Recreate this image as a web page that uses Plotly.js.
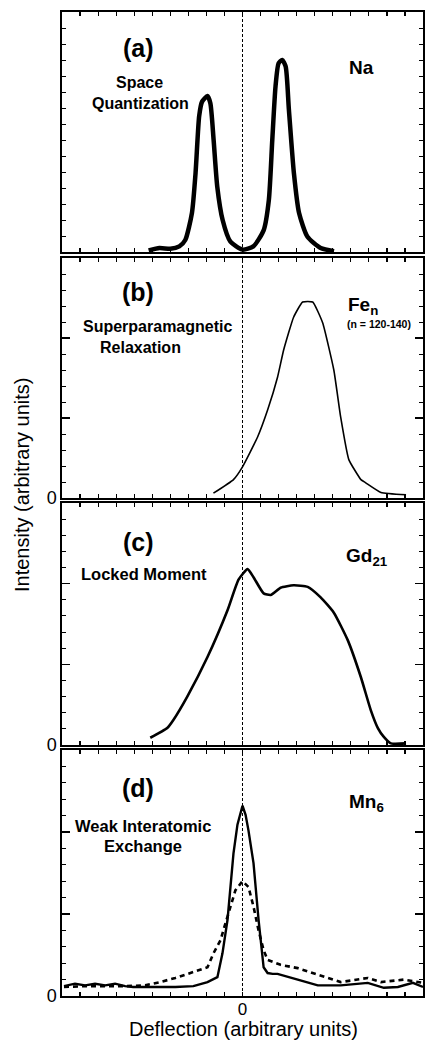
<!DOCTYPE html>
<html>
<head>
<meta charset="utf-8">
<script src="https://cdn.plot.ly/plotly-3.0.1.min.js"></script>
<style>html,body{margin:0;padding:0;background:#fff;}#chart{width:425px;height:1041px;}</style>
</head>
<body>
<div id="chart"></div>
<script>
// ---- Data (deflection in arbitrary units, intensity in arbitrary units) ----
const naX = [-5.2, -4.6, -4.0, -3.5, -3.17, -2.8, -2.6, -2.4, -2.24, -1.94, -1.78, -1.6, -1.4, -1.1, -0.67, 0, 0.6, 1.17, 1.46, 1.65, 1.83, 2.0, 2.2, 2.39, 2.57, 2.85, 3.13, 3.6, 4.33, 5.07];
const naY = [0.02, 0.05, 0.04, 0.07, 0.15, 0.49, 0.99, 1.7, 1.88, 1.95, 1.86, 1.4, 0.82, 0.4, 0.13, 0.03, 0.07, 0.27, 0.65, 1.4, 2.07, 2.36, 2.4, 2.32, 1.78, 0.98, 0.49, 0.19, 0.05, 0.01];

const feX = [-1.61, -0.5, 0, 0.83, 1.39, 1.94, 2.28, 2.83, 3.33, 3.89, 4.44, 5.06, 5.44, 5.89, 6.56, 6.83, 7.67, 9.06];
const feY = [0.06, 0.23, 0.39, 0.76, 1.1, 1.51, 1.85, 2.26, 2.45, 2.45, 2.19, 1.6, 1.01, 0.48, 0.23, 0.19, 0.07, 0.04];

const gdX = [-5.11, -4.17, -3.83, -3.06, -1.94, -0.83, -0.22, 0.28, 0.61, 1.17, 1.56, 2.11, 2.83, 3.61, 4.33, 5.06, 5.83, 6.56, 7.11, 7.5, 7.83, 8.22, 9.06];
const gdY = [0.09, 0.21, 0.31, 0.6, 1.09, 1.67, 2.05, 2.18, 2.08, 1.88, 1.86, 1.95, 1.98, 1.96, 1.83, 1.64, 1.3, 0.84, 0.43, 0.21, 0.1, 0.02, 0.02];

const mnSolidX = [-9.89, -9.28, -8.72, -8.17, -7.61, -7.06, -6.5, -6.06, -5.39, -4.56, -3.72, -2.72, -1.94, -1.39, -1.11, -0.83, -0.67, -0.5, -0.28, 0, 0.17, 0.33, 0.61, 0.89, 1.17, 1.39, 1.67, 1.94, 3.06, 4.17, 5.44, 6.94, 7.83, 8.61, 9.44, 10];
const mnSolidY = [0.12, 0.15, 0.13, 0.15, 0.13, 0.15, 0.12, 0.11, 0.11, 0.11, 0.11, 0.12, 0.17, 0.23, 0.52, 0.93, 1.33, 1.74, 2.09, 2.32, 2.21, 2.02, 1.62, 0.93, 0.35, 0.28, 0.27, 0.27, 0.2, 0.13, 0.13, 0.16, 0.1, 0.11, 0.16, 0.11];

const mnDashX = [-9.89, -8.72, -7.61, -6.5, -5.39, -4.56, -3.72, -2.89, -2.33, -1.94, -1.61, -1.22, -0.94, -0.67, -0.39, 0, 0.33, 0.61, 0.89, 1.17, 1.39, 2.11, 3.06, 4.17, 5.44, 6.94, 7.67, 8.94, 10];
const mnDashY = [0.11, 0.12, 0.12, 0.12, 0.13, 0.17, 0.22, 0.28, 0.32, 0.35, 0.52, 0.68, 0.89, 1.09, 1.29, 1.4, 1.33, 1.09, 0.8, 0.56, 0.44, 0.38, 0.34, 0.26, 0.17, 0.22, 0.17, 0.2, 0.16];

const xTickVals = [-10,-9,-8,-7,-6,-5,-4,-3,-2,-1,0,1,2,3,4,5,6,7,8,9,10];
const xTickText = ['','','','','','','','','','','0','','','','','','','','','',''];
const yTickVals = [0, 1, 2, 3];
const yTickText = ['0', '', '', ''];

// ---- Layout helpers ----
const PL = 62, PR = 423, PT = 12, PB = 996;
const px = v => (v - PL) / (PR - PL);
const py = v => (PB - v) / (PB - PT);

const FONT = 'Liberation Sans, Arial, sans-serif';

function xax(anchor, showLabels) {
  return {
    anchor: anchor, domain: [0, 1], range: [-10, 10],
    tickmode: 'array', tickvals: xTickVals, ticktext: xTickText,
    showticklabels: showLabels, ticks: 'inside', ticklen: 4, tickwidth: 1.2, tickcolor: '#000',
    showline: true, linecolor: '#000', linewidth: 1.6, mirror: 'allticks',
    showgrid: false, zeroline: false,
    tickfont: {family: FONT, size: 17, color: '#000'}
  };
}
function yax(anchor, dom, showLabels) {
  return {
    anchor: anchor, domain: dom, range: [0, 3],
    tickmode: 'array', tickvals: yTickVals, ticktext: yTickText,
    showticklabels: showLabels, ticks: 'inside', ticklen: 8, tickwidth: 1.2, tickcolor: '#000',
    minor: {dtick: 0.2, ticks: 'inside', ticklen: 4, tickwidth: 1, tickcolor: '#000', showgrid: false},
    showline: true, linecolor: '#000', linewidth: 1.6, mirror: 'allticks',
    showgrid: false, zeroline: false,
    tickfont: {family: FONT, size: 18, color: '#000'}
  };
}

const traces = [
  {x: naX, y: naY, xaxis: 'x', yaxis: 'y', mode: 'lines', line: {color: '#000', width: 4.5, shape: 'spline', smoothing: 0.6}},
  {x: feX, y: feY, xaxis: 'x2', yaxis: 'y2', mode: 'lines', line: {color: '#000', width: 1.6, shape: 'spline', smoothing: 0.4}},
  {x: gdX, y: gdY, xaxis: 'x3', yaxis: 'y3', mode: 'lines', line: {color: '#000', width: 2.6, shape: 'spline', smoothing: 0.5}},
  {x: mnSolidX, y: mnSolidY, xaxis: 'x4', yaxis: 'y4', mode: 'lines', line: {color: '#000', width: 2.4}},
  {x: mnDashX, y: mnDashY, xaxis: 'x4', yaxis: 'y4', mode: 'lines', line: {color: '#000', width: 2.6, dash: '5px,4px'}}
];

const doms = [
  [py(252), py(12)],
  [py(498), py(258)],
  [py(745), py(503)],
  [py(996), py(750)]
];

const shapes = ['', '2', '3', '4'].map(s => ({
  type: 'line', xref: 'x' + s, yref: 'y' + (s) + ' domain', x0: 0, x1: 0, y0: 0, y1: 1,
  line: {color: '#000', width: 1, dash: '3px,2px'}
}));

function ann(text, x, y, size, bold) {
  return {text: bold ? '<b>' + text + '</b>' : text, xref: 'paper', yref: 'paper', x: px(x), y: py(y),
    xanchor: 'center', yanchor: 'middle', showarrow: false,
    font: {family: FONT, size: size, color: '#000'}};
}

const annotations = [
  ann('(a)', 138, 48, 25, true),
  ann('Space', 139, 83, 16, true),
  ann('Quantization', 140, 103, 16, true),
  ann('Na', 361, 67, 19, true),
  ann('(b)', 138, 292, 25, true),
  ann('Superparamagnetic', 157, 327, 16, true),
  ann('Relaxation', 140, 347, 16, true),
  ann('Fe<sub>n</sub>', 363, 306, 19, true),
  ann('(n = 120-140)', 379, 324, 10.5, true),
  ann('(c)', 138, 542, 25, true),
  ann('Locked Moment', 144, 574, 16.5, true),
  ann('Gd<sub>21</sub>', 367, 557, 19, true),
  ann('(d)', 138, 788, 25, true),
  ann('Weak Interatomic', 143, 826, 16.5, true),
  ann('Exchange', 143, 846, 16.5, true),
  ann('Mn<sub>6</sub>', 366, 803, 19, true),
  {text: 'Intensity (arbitrary units)', xref: 'paper', yref: 'paper', x: px(22), y: py(485),
   xanchor: 'center', yanchor: 'middle', textangle: -90, showarrow: false,
   font: {family: FONT, size: 20, color: '#000'}},
  {text: 'Deflection (arbitrary units)', xref: 'paper', yref: 'paper', x: px(243), y: py(1029),
   xanchor: 'center', yanchor: 'middle', showarrow: false,
   font: {family: FONT, size: 20, color: '#000'}}
];

const layout = {
  width: 425, height: 1041,
  margin: {l: PL, r: 425 - PR, t: PT, b: 1041 - PB},
  paper_bgcolor: '#fff', plot_bgcolor: '#fff',
  showlegend: false,
  xaxis: xax('y', false),
  xaxis2: xax('y2', false),
  xaxis3: xax('y3', false),
  xaxis4: Object.assign(xax('y4', true), {ticklabelstandoff: -3}),
  yaxis: yax('x', doms[0], false),
  yaxis2: yax('x2', doms[1], true),
  yaxis3: yax('x3', doms[2], true),
  yaxis4: yax('x4', doms[3], true),
  shapes: shapes,
  annotations: annotations
};

Plotly.newPlot('chart', traces, layout, {staticPlot: true, displayModeBar: false});
</script>
</body>
</html>
